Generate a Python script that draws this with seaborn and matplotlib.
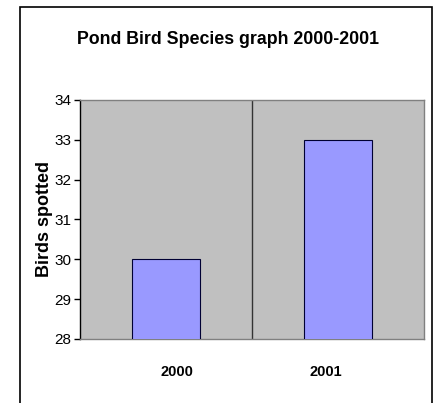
import matplotlib
matplotlib.use("Agg")
import matplotlib.pyplot as plt
import matplotlib.transforms as mtransforms
from matplotlib.patches import Rectangle
import seaborn as sns
import pandas as pd

years = ["2000", "2001"]
birds_spotted = [30, 33]
y_ticks = [28, 29, 30, 31, 32, 33, 34]

sns.set_theme(style="white")
plt.rcParams["font.family"] = ["Liberation Sans", "DejaVu Sans"]
plt.rcParams["text.color"] = "black"
plt.rcParams["axes.labelcolor"] = "black"
plt.rcParams["xtick.color"] = "black"
plt.rcParams["ytick.color"] = "black"

df = pd.DataFrame({"year": years, "birds": birds_spotted})

fig = plt.figure(figsize=(4.42, 4.03), dpi=100)
ax = fig.add_axes([80 / 442, 1 - 339 / 403, 344 / 442, 239 / 403])
ax.set_facecolor("#C0C0C0")

sns.barplot(data=df, x="year", y="birds", color="#9999FF", width=0.4,
            edgecolor="#000033", linewidth=0.8, saturation=1, ax=ax, zorder=3)

ax.set_xlim(-0.5, 1.5)
ax.set_ylim(28, 34)
ax.set_yticks(y_ticks)
ax.axvline(0.5, color="#333333", linewidth=1, zorder=2)

for side in ["top", "right", "bottom"]:
    ax.spines[side].set_color("#808080")
    ax.spines[side].set_linewidth(1)
ax.spines["left"].set_color("#000000")
ax.spines["left"].set_linewidth(1)

ax.tick_params(axis="y", which="major", left=True, length=4, width=1,
               color="#000000", labelsize=11, pad=2)
ax.tick_params(axis="x", bottom=False, labelsize=10.5, pad=13)

# category labels sit slightly inward toward the divider
label_shifts = [0.11, -0.125]
for lbl, dx in zip(ax.get_xticklabels(), label_shifts):
    lbl.set_fontweight("bold")
    lbl.set_transform(lbl.get_transform() +
                      mtransforms.ScaledTranslation(dx, 0, fig.dpi_scale_trans))

ax.set_xlabel("")
ax.set_ylabel("Birds spotted", fontsize=13, fontweight="bold", labelpad=1)

fig.text(228 / 442, 1 - 39 / 403, "Pond Bird Species graph 2000-2001",
         ha="center", va="center", fontsize=12.8, fontweight="bold")

fig.patches.append(Rectangle((20 / 442, -0.05), 412 / 442, 1 - 7 / 403 + 0.05,
                             transform=fig.transFigure, fill=False,
                             edgecolor="#000000", linewidth=1.2, clip_on=False))

fig.savefig("out.png", dpi=100)
